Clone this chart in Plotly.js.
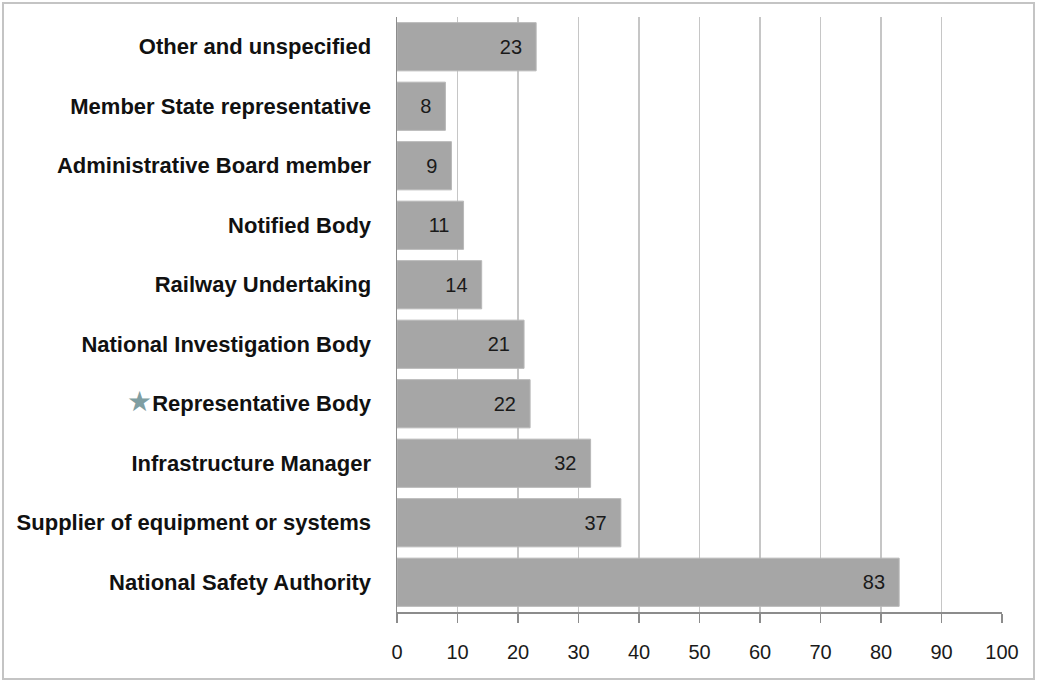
<!DOCTYPE html>
<html>
<head>
<meta charset="utf-8">
<script src="https://cdn.plot.ly/plotly-3.0.1.min.js"></script>
<style>
html,body{margin:0;padding:0;background:#fff;}
#wrap{position:relative;width:1039px;height:684px;}
#chart{width:1039px;height:684px;}
#frame{position:absolute;left:2px;top:2px;width:1033px;height:678px;border:2px solid #c4c4c4;box-sizing:border-box;pointer-events:none;}
</style>
</head>
<body>
<div id="wrap"><div id="chart"></div><div id="frame"></div></div>
<script>
const categories = [
  "National Safety Authority",
  "Supplier of equipment or systems",
  "Infrastructure Manager",
  "Representative Body",
  "National Investigation Body",
  "Railway Undertaking",
  "Notified Body",
  "Administrative Board member",
  "Member State representative",
  "Other and unspecified"
];
const values = [83, 37, 32, 22, 21, 14, 11, 9, 8, 23];
const xTicks = [0,10,20,30,40,50,60,70,80,90,100];
const starred = "Representative Body";

const tickText = categories.map(c => c === starred
  ? '<span style="color:#7f9ea2;font-size:28px;font-weight:normal">★</span>' + c
  : c);

const trace = {
  type: 'bar',
  orientation: 'h',
  y: categories,
  x: values,
  text: values.map(v => String(v) + '\u00a0\u00a0'),
  textposition: 'inside',
  insidetextanchor: 'end',
  textangle: 0,
  constraintext: 'none',
  textfont: {family: 'Liberation Sans, Arial, sans-serif', size: 20, color: '#1a1a1a'},
  marker: {color: '#a6a6a6', line: {color: '#b8b8b8', width: 1}},
  hoverinfo: 'none'
};

const layout = {
  width: 1039, height: 684,
  margin: {l: 397, r: 37, t: 17, b: 72, pad: 0},
  paper_bgcolor: '#ffffff', plot_bgcolor: '#ffffff',
  bargap: 0.19,
  showlegend: false,
  font: {family: 'Liberation Sans, Arial, sans-serif', color: '#1a1a1a'},
  xaxis: {
    range: [0, 100],
    tickvals: xTicks,
    ticktext: xTicks.map(String),
    showgrid: true, gridcolor: '#c6c6c6', gridwidth: 1.5,
    showline: true, linecolor: '#8c8c8c', linewidth: 1.5,
    ticks: 'outside', ticklen: 9, tickcolor: '#8c8c8c', tickwidth: 1.5,
    ticklabelstandoff: 12,
    tickfont: {size: 20, color: '#1a1a1a'},
    zeroline: false, fixedrange: true
  },
  yaxis: {
    type: 'category',
    tickvals: categories,
    ticktext: tickText,
    showline: true, linecolor: '#8c8c8c', linewidth: 1.5,
    ticks: '', ticklabelstandoff: 20,
    tickfont: {size: 22, color: '#111', family: 'Liberation Sans, Arial, sans-serif', weight: 'bold'},
    showgrid: false, zeroline: false, fixedrange: true
  }
};

Plotly.newPlot('chart', [trace], layout, {displayModeBar: false, staticPlot: true});
</script>
</body>
</html>
